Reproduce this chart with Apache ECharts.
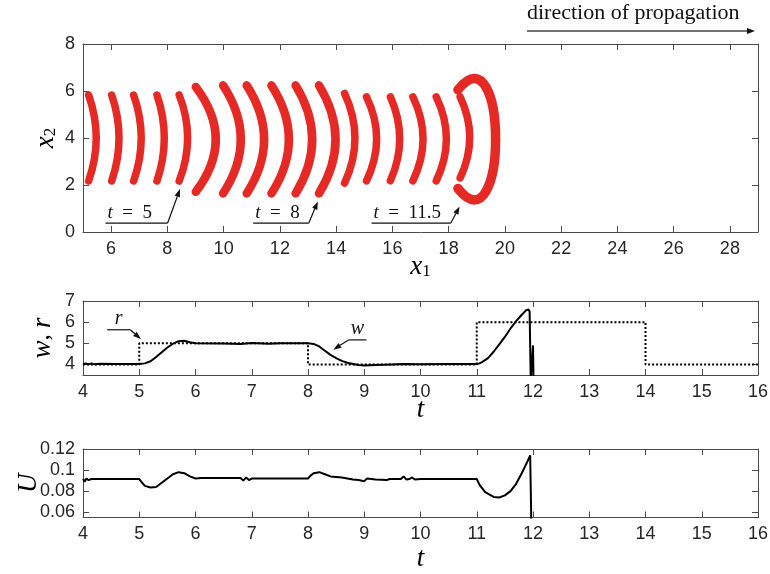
<!DOCTYPE html>
<html><head><meta charset="utf-8">
<script src="https://cdn.jsdelivr.net/npm/echarts@6/dist/echarts.min.js"></script>
<style>html,body{margin:0;padding:0;background:#fff}#c{width:770px;height:574px}</style>
</head><body><div id="c"></div>
<script>
// ---------- Top panel: wave-front arcs (x1 of arc ends, x1 of arc bulge, x2 low/high ends) ----------
const arcEnd   = [5.20, 6.02, 6.80, 7.63, 8.42, 9.01, 9.98, 10.82, 11.70, 12.56, 13.39, 14.30, 15.08, 15.93, 16.73, 17.56, 18.41];
const arcBulge = [5.47, 6.28, 7.07, 7.89, 8.72, 9.72, 10.61, 11.44, 12.32, 13.15, 13.98, 14.67, 15.44, 16.26, 17.09, 17.92, 18.75];
const arcLow   = [2.17, 2.17, 2.17, 2.17, 2.17, 1.71, 1.64, 1.64, 1.64, 1.64, 1.64, 2.08, 2.18, 2.18, 2.18, 2.18, 2.30];
const arcHigh  = [5.83, 5.83, 5.83, 5.83, 5.83, 6.17, 6.24, 6.24, 6.24, 6.24, 6.24, 5.90, 5.75, 5.75, 5.75, 5.75, 5.75];
// curled front at t = 11.5 (end x1, rightmost x1, lower / upper end x2)
const frontEnd   = [18.33];
const frontRight = [19.67];
const frontLow   = [1.85];
const frontHigh  = [6.05];
const x1Ticks = [6, 8, 10, 12, 14, 16, 18, 20, 22, 24, 26, 28];
const x2Ticks = [0, 2, 4, 6, 8];
// annotations of top panel
const topAnnLabel = ['5', '8', '11.5'];
const topAnnX1    = [5.80, 11.05, 15.26];
const topAnnX2    = [8.01, 13.03, 18.08];
const topAnnY     = [0.38, 0.38, 0.38];
const topAnnTipX  = [8.45, 13.35, 18.39];
const topAnnTipY  = [1.83, 1.30, 1.09];

// ---------- Middle panel: w (solid) and r (dotted, step) ----------
const wT = [4.0, 4.05, 4.1, 4.15, 4.2, 4.3, 4.6, 5.0, 5.1, 5.2, 5.3, 5.4, 5.5, 5.6, 5.7, 5.8, 5.9, 6.0, 6.5, 6.8, 7.0, 7.3, 7.5, 8.0,
            8.1, 8.2, 8.3, 8.4, 8.5, 8.6, 8.7, 8.8, 8.9, 9.0, 9.2, 9.5, 9.7, 10.0, 10.5, 11.0,
            11.05, 11.1, 11.2, 11.3, 11.4, 11.5, 11.6, 11.7, 11.8, 11.88, 11.92, 11.94, 11.96, 11.99, 12.0, 12.01, 12.02];
const wV = [4.02, 4.05, 4.0, 4.05, 4.01, 4.03, 4.02, 4.02, 4.05, 4.15, 4.35, 4.58, 4.8, 4.98, 5.1, 5.12, 5.05, 5.0, 4.99, 4.97, 5.01, 4.98, 5.0, 5.0,
            4.97, 4.85, 4.65, 4.45, 4.3, 4.17, 4.08, 4.02, 3.97, 3.95, 3.97, 4.0, 4.02, 4.01, 4.02, 4.02,
            4.05, 4.12, 4.3, 4.6, 4.95, 5.3, 5.7, 6.05, 6.35, 6.57, 6.6, 6.5, 3.2, 3.2, 4.9, 3.2, 3.2];
const rT = [4, 5, 8, 11, 14, 16];
const rV = [4, 5, 4, 6, 4, 4];
const wrTicks = [4, 5, 6, 7];
const midAnnLabel = ['r', 'w'];
const midAnnX1    = [4.43, 8.72];
const midAnnX2    = [4.84, 9.04];
const midAnnY     = [5.64, 5.16];
const midAnnTipX  = [5.03, 8.45];
const midAnnTipY  = [5.20, 4.70];

// ---------- Bottom panel: U ----------
const uT = [4.0, 4.03, 4.06, 4.1, 4.15, 4.5, 5.0, 5.05, 5.1, 5.2, 5.3, 5.4, 5.5, 5.6, 5.7, 5.8, 5.9, 6.0, 6.1, 6.5, 6.8, 6.85, 6.9, 6.95, 7.0, 7.05, 7.5, 8.0,
            8.05, 8.1, 8.2, 8.3, 8.4, 8.6, 8.8, 8.9, 9.0, 9.05, 9.2, 9.4, 9.45, 9.65, 9.7, 9.75, 9.8, 9.85, 9.9, 10.0, 10.5, 11.0,
            11.05, 11.15, 11.3, 11.4, 11.5, 11.6, 11.7, 11.8, 11.9, 11.95, 11.97];
const uV = [0.0915, 0.089, 0.092, 0.0905, 0.0915, 0.0915, 0.0915, 0.088, 0.085, 0.0835, 0.084, 0.088, 0.092, 0.096, 0.098, 0.097, 0.094, 0.092, 0.0925, 0.0925, 0.0925, 0.090, 0.093, 0.0905, 0.092, 0.092, 0.092, 0.092,
            0.095, 0.097, 0.098, 0.096, 0.094, 0.093, 0.091, 0.0905, 0.0895, 0.092, 0.091, 0.0905, 0.0915, 0.0915, 0.094, 0.091, 0.0915, 0.093, 0.091, 0.0915, 0.0915, 0.0915,
            0.086, 0.079, 0.0745, 0.074, 0.076, 0.080, 0.087, 0.097, 0.108, 0.114, 0.05];
const uTicks = [0.06, 0.08, 0.1, 0.12];

// ---------- styles ----------
const RED = '#e52a25';
const AX = '#4a4a4a';
const TICKFONT = "'Liberation Sans Narrow', 'Liberation Sans', Arial, sans-serif";
const SERIF = "'Liberation Serif', 'Times New Roman', serif";
const labelStyle = {color: '#262626', fontSize: 18, fontFamily: TICKFONT};
const nameRich = {
  i: {fontFamily: SERIF, fontStyle: 'italic', fontSize: 27, color: '#000'},
  s: {fontFamily: SERIF, fontSize: 17, color: '#000', verticalAlign: 'bottom', padding: [10, 0, 0, 0]},
  n: {fontFamily: SERIF, fontSize: 25, color: '#000'}
};

function vAxis(o) {
  return Object.assign({
    type: 'value',
    nameMoveOverlap: false,
    axisLine: {show: true, onZero: false, lineStyle: {color: AX, width: 1}},
    axisTick: {show: true, inside: true, length: 6, lineStyle: {color: AX, width: 1}},
    splitLine: {show: false},
    axisLabel: Object.assign({show: true, margin: 8}, labelStyle)
  }, o);
}
function mirror(o) {
  const a = vAxis(o);
  a.axisLabel = {show: false};
  return a;
}
function ticksAt(vals) {
  return {show: true, inside: true, length: 6, lineStyle: {color: AX}, customValues: vals};
}
function labelsAt(vals) {
  return Object.assign({margin: 8, customValues: vals}, labelStyle);
}

const grids = [
  {left: 83, top: 44, width: 675, height: 188, containLabel: false, outerBoundsMode: 'none'},
  {left: 83, top: 301, width: 675, height: 74, containLabel: false, outerBoundsMode: 'none'},
  {left: 83, top: 449, width: 675, height: 68.5, containLabel: false, outerBoundsMode: 'none'}
];

const xAxes = [
  vAxis({gridIndex: 0, position: 'bottom', min: 5, max: 29, axisTick: ticksAt(x1Ticks), axisLabel: labelsAt(x1Ticks),
    name: '{i|x}{s|1}', nameLocation: 'middle', nameGap: 21, nameTextStyle: {rich: nameRich}}),
  mirror({gridIndex: 0, position: 'top', min: 5, max: 29, axisTick: ticksAt(x1Ticks)}),
  vAxis({gridIndex: 1, position: 'bottom', min: 4, max: 16, interval: 1,
    name: '{i|t}', nameLocation: 'middle', nameGap: 21, nameTextStyle: {rich: nameRich}}),
  mirror({gridIndex: 1, position: 'top', min: 4, max: 16, interval: 1}),
  vAxis({gridIndex: 2, position: 'bottom', min: 4, max: 16, interval: 1,
    name: '{i|t}', nameLocation: 'middle', nameGap: 28, nameTextStyle: {rich: nameRich}}),
  mirror({gridIndex: 2, position: 'top', min: 4, max: 16, interval: 1})
];
const yAxes = [
  vAxis({gridIndex: 0, position: 'left', min: 0, max: 8, axisTick: ticksAt(x2Ticks), axisLabel: labelsAt(x2Ticks),
    name: '{i|x}{s|2}', nameLocation: 'middle', nameGap: 24, nameTextStyle: {rich: nameRich}}),
  mirror({gridIndex: 0, position: 'right', min: 0, max: 8, axisTick: ticksAt(x2Ticks)}),
  vAxis({gridIndex: 1, position: 'left', min: 3.5, max: 7, axisTick: ticksAt(wrTicks), axisLabel: labelsAt(wrTicks),
    name: '{i|w}{n|, }{i|r}', nameLocation: 'middle', nameGap: 27, nameTextStyle: {rich: nameRich}}),
  mirror({gridIndex: 1, position: 'right', min: 3.5, max: 7, axisTick: ticksAt(wrTicks)}),
  vAxis({gridIndex: 2, position: 'left', min: 0.055, max: 0.12, axisTick: ticksAt(uTicks), axisLabel: labelsAt(uTicks),
    name: '{i|U}', nameLocation: 'middle', nameGap: 41, nameTextStyle: {rich: nameRich}}),
  mirror({gridIndex: 2, position: 'right', min: 0.055, max: 0.12, axisTick: ticksAt(uTicks)})
];

function renderArc(params, api) {
  const xe = api.value(0), xb = api.value(1), yl = api.value(2), yh = api.value(3);
  const p0 = api.coord([xe, yh]), p2 = api.coord([xe, yl]);
  const cp = api.coord([2 * xb - xe, (yl + yh) / 2]);
  const tall = (yh - yl) > 4.2;
  return {type: 'bezierCurve',
    shape: {x1: p0[0], y1: p0[1], x2: p2[0], y2: p2[1], cpx1: cp[0], cpy1: cp[1]},
    style: {stroke: RED, lineWidth: tall ? 8.5 : 7.5, fill: null, lineCap: 'round'}};
}
function renderFront(params, api) {
  const xe = api.value(0), xr = api.value(1), yl = api.value(2), yh = api.value(3);
  const a = (8 * xr - 2 * xe) / 6;
  const lift = 2.7;
  const p0 = api.coord([xe, yh]), p3 = api.coord([xe, yl]);
  const c1 = api.coord([a, yh + lift]), c2 = api.coord([a, yl - lift]);
  return {type: 'bezierCurve',
    shape: {x1: p0[0], y1: p0[1], x2: p3[0], y2: p3[1], cpx1: c1[0], cpy1: c1[1], cpx2: c2[0], cpy2: c2[1]},
    style: {stroke: RED, lineWidth: 9.5, fill: null, lineCap: 'round'}};
}
function makeAnnRenderer(labels, kind) {
  return function (params, api) {
    const i = params.dataIndex;
    const a = api.coord([api.value(0), api.value(2)]);
    const b = api.coord([api.value(1), api.value(2)]);
    const tip = api.coord([api.value(3), api.value(4)]);
    const from = Math.abs(tip[0] - a[0]) < Math.abs(tip[0] - b[0]) ? a : b;
    const ang = Math.atan2(tip[1] - from[1], tip[0] - from[0]);
    const L = 8, W = 2.8;
    const back = [tip[0] - L * Math.cos(ang), tip[1] - L * Math.sin(ang)];
    const head = [[tip[0], tip[1]],
      [back[0] + W * Math.sin(ang), back[1] - W * Math.cos(ang)],
      [back[0] - W * Math.sin(ang), back[1] + W * Math.cos(ang)]];
    const ls = {stroke: '#111', lineWidth: 1.2, fill: null};
    let txt;
    if (kind === 'top') {
      txt = {type: 'text', x: a[0] + 2, y: a[1] - 1,
        style: {text: '{i|t}  =  ' + labels[i], fontFamily: SERIF, fontSize: 19, fill: '#111',
          align: 'left', verticalAlign: 'bottom',
          rich: {i: {fontFamily: SERIF, fontStyle: 'italic', fontSize: 19, fill: '#111'}}}};
    } else {
      txt = {type: 'text', x: (a[0] + b[0]) / 2, y: a[1] - 1,
        style: {text: labels[i], fontFamily: SERIF, fontStyle: 'italic', fontSize: 20, fill: '#111',
          align: 'center', verticalAlign: 'bottom'}};
    }
    return {type: 'group', children: [
      {type: 'polyline', shape: {points: [a, b]}, style: ls},
      {type: 'polyline', shape: {points: [from, back]}, style: ls},
      {type: 'polygon', shape: {points: head}, style: {fill: '#111'}},
      txt
    ]};
  };
}

const series = [
  {type: 'custom', xAxisIndex: 0, yAxisIndex: 0, renderItem: renderArc, silent: true,
    data: arcEnd.map((x, i) => [x, arcBulge[i], arcLow[i], arcHigh[i]])},
  {type: 'custom', xAxisIndex: 0, yAxisIndex: 0, renderItem: renderFront, silent: true,
    data: frontEnd.map((x, i) => [x, frontRight[i], frontLow[i], frontHigh[i]])},
  {type: 'custom', xAxisIndex: 0, yAxisIndex: 0, renderItem: makeAnnRenderer(topAnnLabel, 'top'), silent: true,
    data: topAnnLabel.map((s, i) => [topAnnX1[i], topAnnX2[i], topAnnY[i], topAnnTipX[i], topAnnTipY[i]])},
  {type: 'line', xAxisIndex: 2, yAxisIndex: 2, step: 'end', showSymbol: false, silent: true,
    lineStyle: {color: '#000', width: 2, type: [2, 2]}, data: rT.map((t, i) => [t, rV[i]])},
  {type: 'line', xAxisIndex: 2, yAxisIndex: 2, showSymbol: false, silent: true, clip: true,
    lineStyle: {color: '#000', width: 2}, data: wT.map((t, i) => [t, wV[i]])},
  {type: 'custom', xAxisIndex: 2, yAxisIndex: 2, renderItem: makeAnnRenderer(midAnnLabel, 'mid'), silent: true,
    data: midAnnLabel.map((s, i) => [midAnnX1[i], midAnnX2[i], midAnnY[i], midAnnTipX[i], midAnnTipY[i]])},
  {type: 'line', xAxisIndex: 4, yAxisIndex: 4, showSymbol: false, silent: true, clip: true,
    lineStyle: {color: '#000', width: 2}, data: uT.map((t, i) => [t, uV[i]])}
];

const chart = echarts.init(document.getElementById('c'), null, {renderer: 'canvas'});
chart.setOption({
  animation: false,
  backgroundColor: '#fff',
  grid: grids,
  xAxis: xAxes,
  yAxis: yAxes,
  series: series,
  graphic: [
    {type: 'text', left: 527, top: 2,
      style: {text: 'direction of propagation', fontFamily: SERIF, fontSize: 22, fill: '#111'}},
    {type: 'line', shape: {x1: 527, y1: 31, x2: 748, y2: 31}, style: {stroke: '#444', lineWidth: 1.3}},
    {type: 'polygon', shape: {points: [[755, 31], [747, 28], [747, 34]]}, style: {fill: '#111'}}
  ]
});
</script>
</body></html>
